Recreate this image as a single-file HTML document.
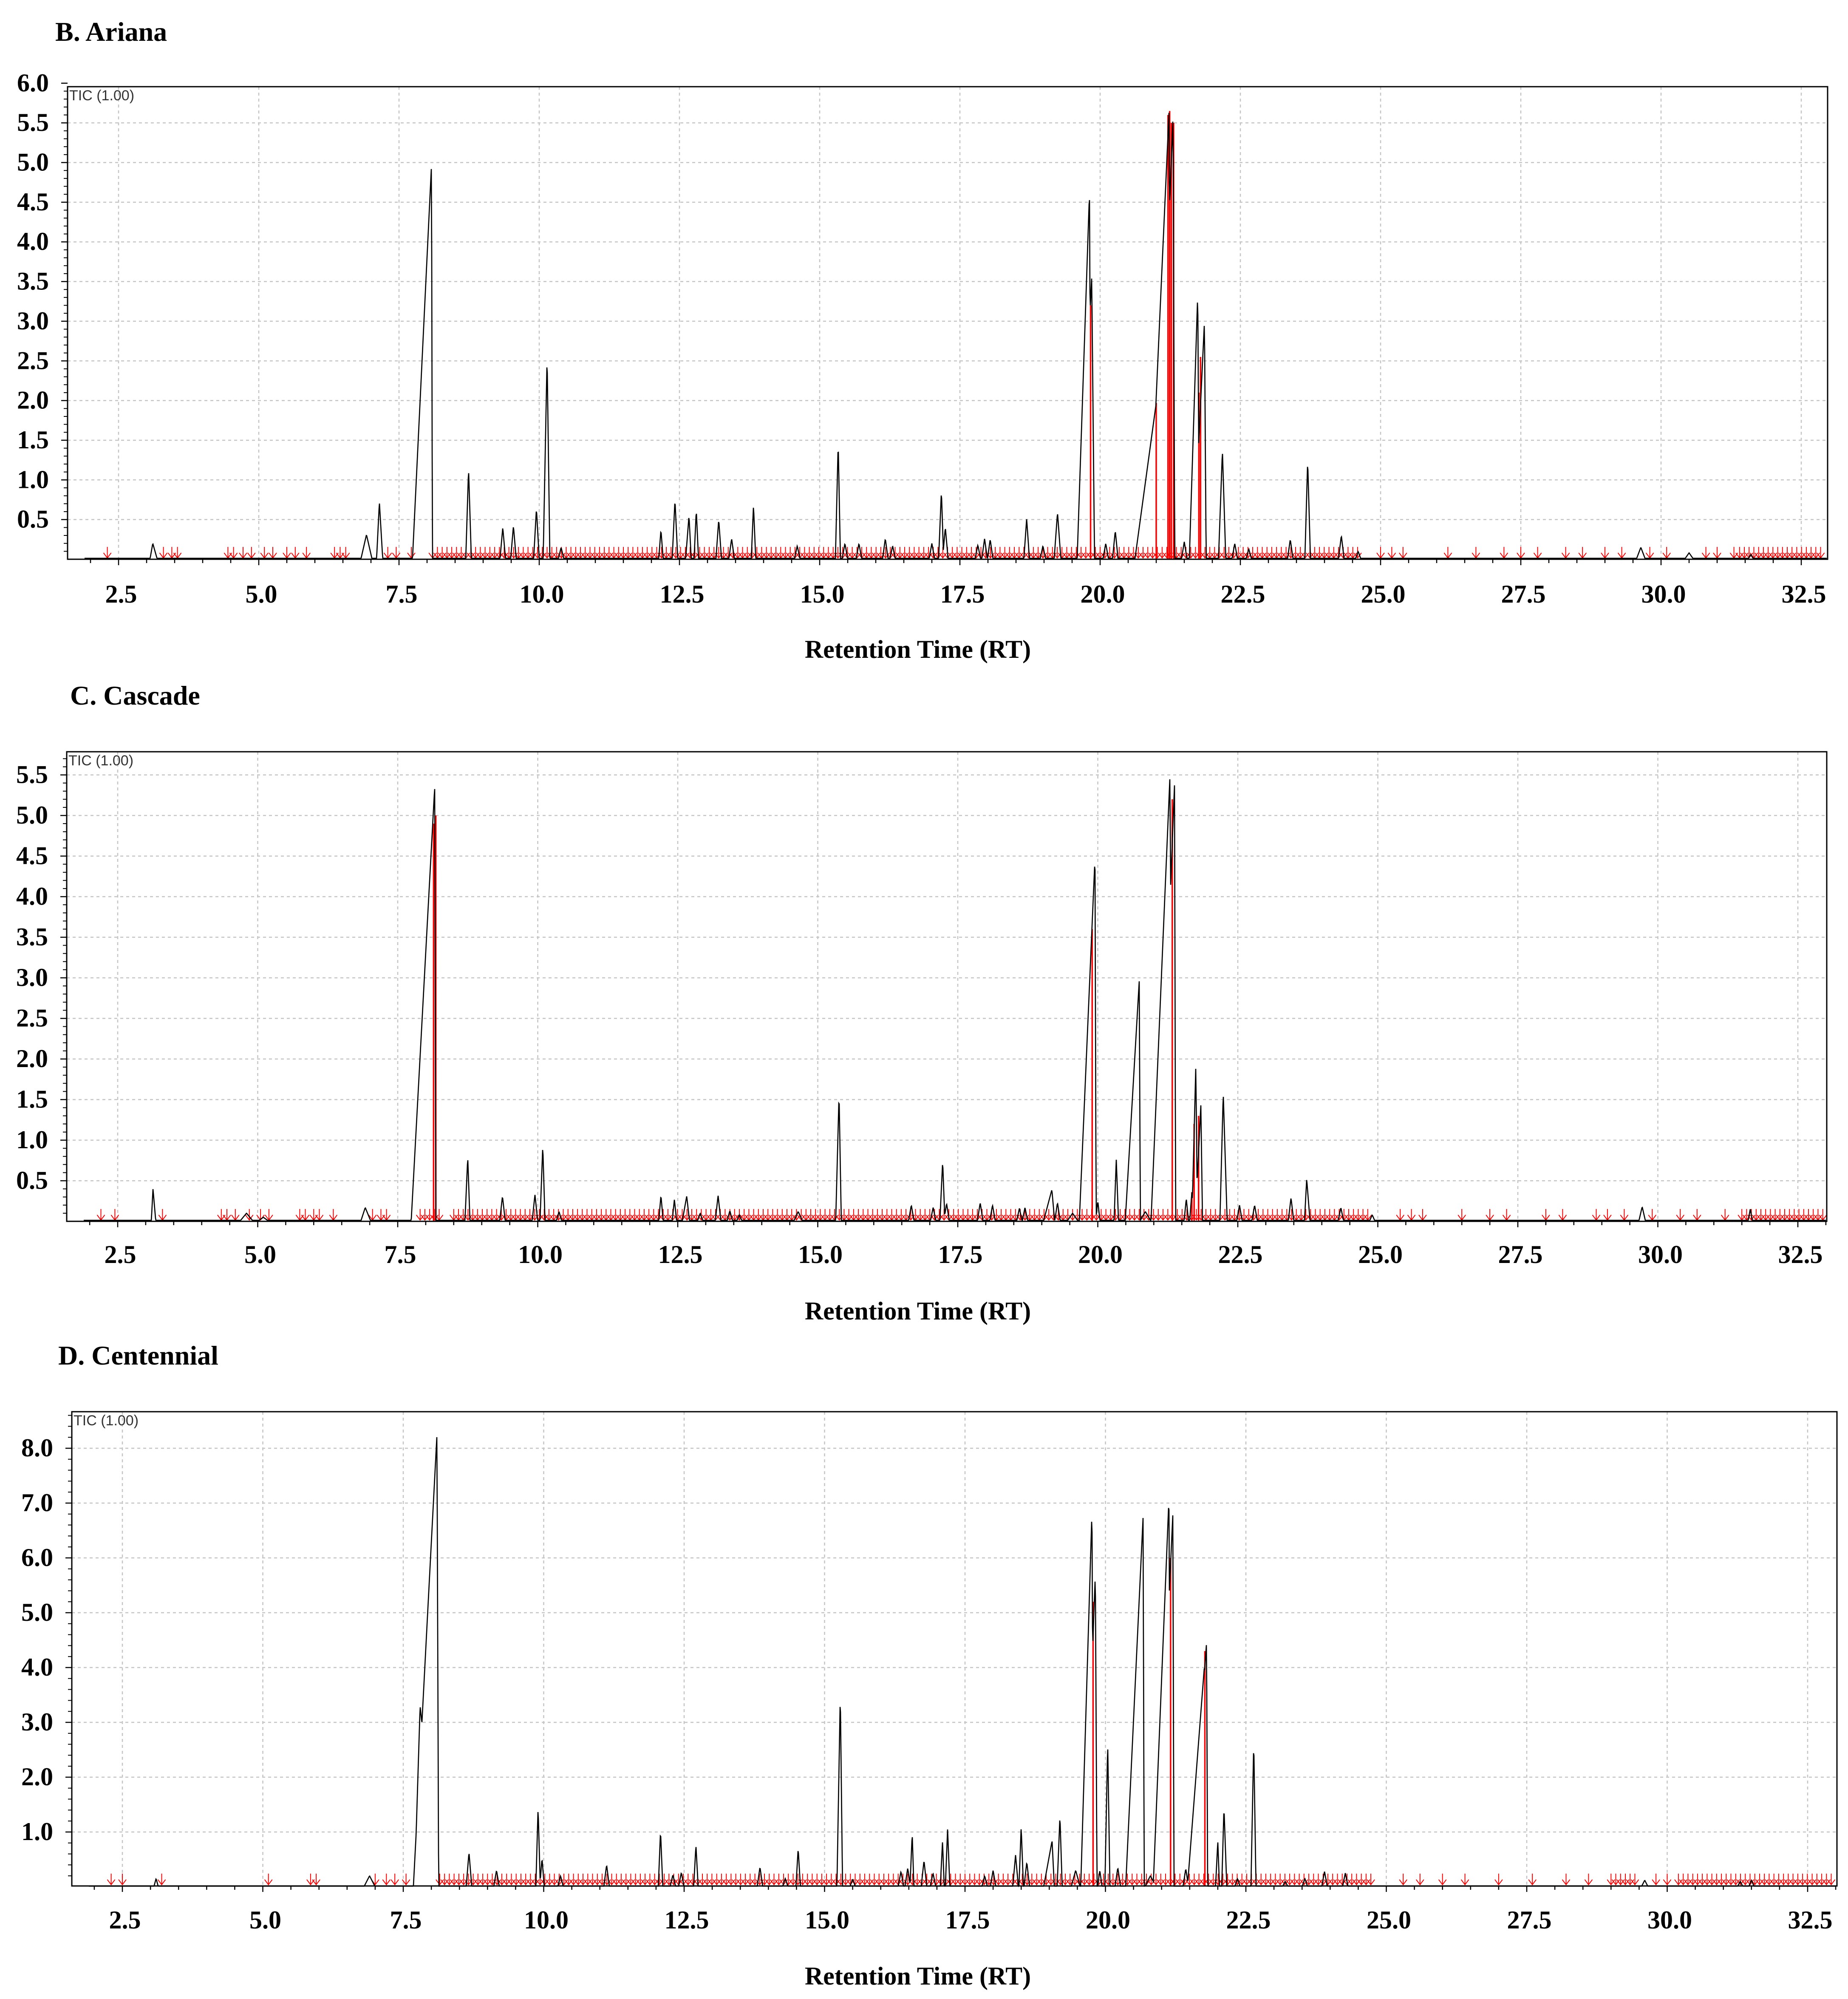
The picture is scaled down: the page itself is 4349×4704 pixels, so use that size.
<!DOCTYPE html>
<html><head><meta charset="utf-8">
<style>
html,body{margin:0;padding:0;background:#fff;}
svg{display:block;}
.t{font-family:"Liberation Serif",serif;font-weight:bold;fill:#000;}
.tic{font-family:"Liberation Sans",sans-serif;fill:#333;}
</style></head>
<body>
<svg id="chart" xmlns="http://www.w3.org/2000/svg" width="4349" height="4704" viewBox="0 0 4349 4704">
<rect width="4349" height="4704" fill="#fff"/>
<text class="t" x="130" y="96" font-size="64">B. Ariana</text>
<text class="t" x="165" y="1658" font-size="64">C. Cascade</text>
<text class="t" x="137" y="3211" font-size="64">D. Centennial</text>
<text class="t" x="2160" y="1548" font-size="60" text-anchor="middle">Retention Time (RT)</text>
<text class="t" x="2160" y="3105" font-size="60" text-anchor="middle">Retention Time (RT)</text>
<text class="t" x="2160" y="4670" font-size="60" text-anchor="middle">Retention Time (RT)</text>
</svg>
<script>
// x tick labels shared by all panels
const xTicks = [2.5,5.0,7.5,10.0,12.5,15.0,17.5,20.0,22.5,25.0,27.5,30.0,32.5];

// ---- Panel B (Ariana) ----
const p1Rt = [3.11,6.92,7.15,8.08,8.74,9.35,9.54,9.95,10.14,10.39,12.17,12.42,12.67,12.8,13.2,13.43,13.82,14.6,15.33,15.45,15.7,16.17,16.3,17.0,17.17,17.24,17.82,17.94,18.04,18.69,18.98,19.24,19.81,19.85,20.1,20.27,20.82,21.0,21.23,21.3,21.5,21.74,21.86,22.18,22.4,22.65,23.39,23.7,24.3,24.6,29.64,30.5,31.6];
const p1H  = [0.2,0.31,0.72,4.98,1.14,0.4,0.42,0.64,2.55,0.15,0.37,0.75,0.55,0.62,0.5,0.26,0.68,0.17,1.47,0.2,0.2,0.26,0.17,0.2,0.86,0.4,0.18,0.26,0.25,0.51,0.17,0.59,4.62,3.56,0.2,0.36,0.15,1.97,5.67,5.6,0.22,3.35,3.0,1.37,0.2,0.13,0.25,1.24,0.3,0.1,0.15,0.08,0.06];
const p1Wl = [0.05,0.1,0.05,0.34,0.05,0.05,0.05,0.05,0.07,0.05,0.04,0.05,0.06,0.04,0.05,0.05,0.04,0.05,0.05,0.05,0.05,0.05,0.05,0.05,0.05,0.05,0.05,0.05,0.05,0.05,0.05,0.06,0.22,0.24,0.05,0.05,0.15,0.38,0.36,0.3,0.05,0.15,0.2,0.07,0.05,0.05,0.05,0.05,0.05,0.05,0.08,0.08,0.05];
const p1Wr = [0.08,0.1,0.06,0.015,0.05,0.05,0.05,0.05,0.05,0.05,0.04,0.05,0.04,0.04,0.05,0.05,0.04,0.05,0.04,0.05,0.05,0.05,0.05,0.05,0.04,0.05,0.05,0.05,0.05,0.05,0.05,0.06,0.03,0.05,0.05,0.05,0.15,0.05,0.03,0.03,0.05,0.03,0.03,0.06,0.05,0.05,0.05,0.05,0.05,0.05,0.08,0.08,0.05];
const p1RedRt = [19.83,21.0,21.21,21.24,21.27,21.31,21.76,21.79];
const p1RedH  = [3.2,1.97,5.6,5.65,5.5,5.5,2.1,2.55];
const p1ArrowSingle = [2.3,3.3,3.45,3.55,4.45,4.55,4.72,4.87,5.1,5.25,5.5,5.65,5.85,6.35,6.45,6.55,7.3,7.45,7.72,25.0,25.2,25.4,26.2,26.7,27.2,27.5,27.8,28.3,28.6,29.0,29.3,29.8,30.1,30.8,31.0,31.3];
const p1ArrowDense = [[8.1,24.6],[31.4,32.9]];

// ---- Panel C (Cascade) ----
const p2Rt = [3.13,4.8,5.1,6.92,8.16,8.75,9.37,9.95,10.09,10.38,12.2,12.44,12.66,12.9,13.22,13.43,13.6,14.65,15.38,16.67,17.06,17.23,17.3,17.9,18.12,18.6,18.7,19.18,19.28,19.55,19.95,20.0,20.33,20.74,20.85,21.29,21.37,21.58,21.68,21.75,21.84,22.24,22.53,22.8,23.45,23.73,24.34,24.9,29.72,31.65];
const p2H  = [0.4,0.1,0.05,0.17,5.35,0.79,0.31,0.33,0.93,0.12,0.32,0.27,0.31,0.1,0.32,0.13,0.08,0.12,1.57,0.2,0.17,0.74,0.22,0.23,0.2,0.16,0.17,0.39,0.23,0.1,4.48,0.25,0.76,2.96,0.12,5.51,5.38,0.28,0.36,1.91,1.43,1.58,0.2,0.2,0.29,0.52,0.17,0.08,0.18,0.15];
const p2Wl = [0.03,0.12,0.1,0.08,0.42,0.05,0.05,0.05,0.05,0.05,0.04,0.04,0.08,0.05,0.05,0.05,0.05,0.08,0.06,0.05,0.05,0.05,0.05,0.05,0.05,0.05,0.05,0.15,0.05,0.1,0.28,0.04,0.04,0.25,0.1,0.34,0.3,0.04,0.04,0.07,0.1,0.06,0.05,0.05,0.05,0.04,0.05,0.05,0.06,0.04];
const p2Wr = [0.05,0.12,0.1,0.1,0.02,0.04,0.05,0.05,0.04,0.05,0.04,0.04,0.05,0.05,0.05,0.05,0.05,0.08,0.04,0.05,0.05,0.04,0.05,0.05,0.05,0.05,0.05,0.05,0.05,0.1,0.02,0.04,0.04,0.02,0.1,0.03,0.02,0.04,0.04,0.03,0.03,0.07,0.05,0.05,0.05,0.06,0.05,0.05,0.06,0.04];
const p2RedRt = [8.14,8.18,19.9,21.33,21.68,21.72,21.8];
const p2RedH  = [4.9,5.0,3.6,5.2,0.36,1.2,1.3];
const p2ArrowSingle = [2.2,2.45,3.3,4.35,4.45,4.6,4.85,5.05,5.2,5.75,5.85,6.0,6.1,6.35,7.05,7.2,7.3,25.4,25.6,25.8,26.5,27.0,27.3,28.0,28.3,28.9,29.1,29.4,29.9,30.4,30.7,31.2];
const p2ArrowDense = [[7.9,8.3],[8.5,24.9],[31.5,33.0]];

// ---- Panel D (Centennial) ----
const p3Rt = [3.1,6.9,7.8,8.1,8.67,9.16,9.9,9.97,10.3,11.12,12.08,12.3,12.45,12.71,13.85,14.3,14.53,15.28,15.5,16.36,16.48,16.56,16.77,16.93,17.1,17.19,17.85,18.0,18.4,18.5,18.6,19.05,19.19,19.47,19.76,19.82,19.9,20.04,20.22,20.67,20.8,21.13,21.2,21.43,21.76,21.8,22.0,22.11,22.35,22.64,23.2,23.55,23.9,24.27,29.6,31.3,31.5];
const p3H  = [0.15,0.2,3.3,8.25,0.63,0.3,1.44,0.52,0.2,0.4,1.02,0.22,0.26,0.76,0.36,0.15,0.7,3.51,0.14,0.28,0.34,0.97,0.48,0.25,0.83,1.05,0.2,0.3,0.58,1.09,0.45,0.84,1.29,0.3,6.86,5.72,0.3,2.61,0.35,6.74,0.2,7.08,6.8,0.33,4.0,4.46,0.83,1.45,0.15,2.64,0.1,0.15,0.28,0.25,0.12,0.1,0.12];
const p3Wl = [0.04,0.1,0.1,0.42,0.05,0.05,0.04,0.04,0.05,0.05,0.04,0.05,0.05,0.04,0.05,0.05,0.04,0.06,0.05,0.05,0.05,0.04,0.05,0.05,0.04,0.04,0.05,0.05,0.05,0.04,0.05,0.15,0.05,0.08,0.2,0.2,0.04,0.05,0.05,0.31,0.1,0.28,0.3,0.05,0.3,0.3,0.04,0.04,0.05,0.05,0.05,0.05,0.05,0.05,0.06,0.05,0.05];
const p3Wr = [0.04,0.1,0.33,0.03,0.05,0.05,0.04,0.04,0.05,0.05,0.04,0.05,0.05,0.04,0.05,0.05,0.04,0.04,0.05,0.05,0.05,0.03,0.05,0.05,0.03,0.04,0.05,0.05,0.05,0.04,0.05,0.04,0.04,0.08,0.03,0.03,0.04,0.04,0.05,0.02,0.1,0.03,0.02,0.05,0.05,0.02,0.03,0.05,0.05,0.04,0.05,0.05,0.05,0.05,0.06,0.05,0.05];
const p3RedRt = [19.78,21.16,21.77];
const p3RedH  = [5.2,6.0,4.3];
const p3ArrowSingle = [2.3,2.5,3.2,5.1,5.85,5.95,7.0,7.2,7.35,7.55,25.3,25.6,26.0,26.4,27.0,27.6,28.2,28.6,29.8,30.0];
const p3ArrowDense = [[8.15,24.8],[29.0,29.5],[30.2,33.0]];

const NS = "http://www.w3.org/2000/svg";
const svg = document.getElementById("chart");
function mk(tag, attrs, parent){
  const e = document.createElementNS(NS, tag);
  for (const k in attrs) e.setAttribute(k, attrs[k]);
  (parent||svg).appendChild(e);
  return e;
}

function drawPanel(cfg, rt, h, wl, wr, redRt, redH, arrowSingle, arrowDense){
  const g = mk("g", {});
  
  
  const xs = v => cfg.x25 + (v - 2.5) * cfg.pxPerX;
  const ys = v => cfg.y0 - v * cfg.pxPerY;
  for (const t of xTicks){
    const gl = mk("line", {x1:xs(t), x2:xs(t), y1:cfg.top, y2:cfg.bottom, stroke:"#c4c4c4", "stroke-width":2.5, "stroke-dasharray":"7 7"}, g);
    
    
  }
  for (const t of cfg.yTicks){
    if (ys(t) < cfg.top) continue;
    const gl = mk("line", {x1:cfg.left, x2:cfg.right, y1:ys(t), y2:ys(t), stroke:"#c4c4c4", "stroke-width":2.5, "stroke-dasharray":"7 7"}, g);
    
    
  }
  for (let v = cfg.yMinor; v <= cfg.yMax + 1e-6; v += cfg.yMinor){
    const y = ys(v);
    if (y < cfg.top - 12) continue;
    mk("line", {x1:cfg.left-9, x2:cfg.left, y1:y, y2:y, stroke:"#000", "stroke-width":2}, g);
  }
  for (const t of cfg.yTicks){
    mk("line", {x1:cfg.left-15, x2:cfg.left, y1:ys(t), y2:ys(t), stroke:"#000", "stroke-width":2.5}, g);
    const lb = mk("text", {x:cfg.left-44, y:ys(t)+19, "font-size":60, "text-anchor":"end", class:"t"}, g);
    lb.textContent = t.toFixed(1);
    
    
  }
  for (let v = 2.0; v <= 33.0; v += 0.5){
    const x = xs(v);
    if (x < cfg.left || x > cfg.right) continue;
    const major = Math.abs(v/2.5 - Math.round(v/2.5)) < 1e-6;
    mk("line", {x1:x, x2:x, y1:cfg.bottom, y2:cfg.bottom + (major?14:9), stroke:"#000", "stroke-width":2.5}, g);
  }
  for (const t of xTicks){
    const lb = mk("text", {x:xs(t)+6, y:cfg.xLabelY, "font-size":60, "text-anchor":"middle", class:"t"}, g);
    lb.textContent = t.toFixed(1);
    
    
  }
  const arrowPos = arrowSingle.slice();
  for (const r of arrowDense){ for (let v = r[0]; v <= r[1]; v += 0.085) arrowPos.push(v); }
  let ad = "";
  const by = cfg.bottom - 3;
  for (const v of arrowPos){
    const x = xs(v);
    if (x < cfg.left || x > cfg.right) continue;
    ad += `M${x.toFixed(1)} ${by-26}L${x.toFixed(1)} ${by}M${(x-9).toFixed(1)} ${by-12}L${x.toFixed(1)} ${by}L${(x+9).toFixed(1)} ${by-12}`;
  }
  const ap = mk("path", {d:ad, stroke:"#ff0000", "stroke-width":2, fill:"none"}, g);
  
  
  for (let i = 0; i < redRt.length; i++){
    const rl = mk("line", {x1:xs(redRt[i]), x2:xs(redRt[i]), y1:cfg.bottom, y2:Math.max(cfg.top, ys(redH[i])), stroke:"#ff0000", "stroke-width":3.5}, g);
    
    
  }
  let pts = [];
  for (let X = cfg.left + 40; X <= cfg.right - 2; X += 1){
    const t = 2.5 + (X - cfg.x25) / cfg.pxPerX;
    let val = 0.012;
    for (let i = 0; i < rt.length; i++){
      const d = t - rt[i];
      const w = d < 0 ? wl[i] : wr[i];
      const f = h[i] * (1 - Math.abs(d) / w);
      if (f > val) val = f;
    }
    let y = ys(val);
    if (y < cfg.top) y = cfg.top;
    pts.push(X + "," + y.toFixed(1));
  }
  const tr = mk("polyline", {points:pts.join(" "), fill:"none", stroke:"#000", "stroke-width":2.6, "stroke-linejoin":"miter"}, g);
  
  
  const bx = mk("rect", {x:cfg.left, y:cfg.top, width:cfg.right-cfg.left, height:cfg.bottom-cfg.top, fill:"none", stroke:"#000", "stroke-width":3}, g);
  
  
  const tl = mk("text", {x:cfg.left+4, y:cfg.top+32, "font-size":34, class:"tic"}, g);
  tl.textContent = "TIC (1.00)";
  
  
}

drawPanel({name:"panel-b-ariana", left:159, top:204, right:4301, bottom:1316, x25:279, pxPerX:132, y0:1316, pxPerY:186.7,
  yTicks:[0.5,1.0,1.5,2.0,2.5,3.0,3.5,4.0,4.5,5.0,5.5,6.0], yMinor:0.1, yMax:6.0, xLabelY:1418},
  p1Rt, p1H, p1Wl, p1Wr, p1RedRt, p1RedH, p1ArrowSingle, p1ArrowDense);
drawPanel({name:"panel-c-cascade", left:157, top:1769, right:4299, bottom:2874, x25:277, pxPerX:131.8, y0:2874, pxPerY:191,
  yTicks:[0.5,1.0,1.5,2.0,2.5,3.0,3.5,4.0,4.5,5.0,5.5], yMinor:0.1, yMax:5.7, xLabelY:2972},
  p2Rt, p2H, p2Wl, p2Wr, p2RedRt, p2RedH, p2ArrowSingle, p2ArrowDense);
drawPanel({name:"panel-d-centennial", left:169, top:3322, right:4323, bottom:4438, x25:288, pxPerX:132.2, y0:4440, pxPerY:129,
  yTicks:[1.0,2.0,3.0,4.0,5.0,6.0,7.0,8.0], yMinor:0.2, yMax:8.6, xLabelY:4538},
  p3Rt, p3H, p3Wl, p3Wr, p3RedRt, p3RedH, p3ArrowSingle, p3ArrowDense);
</script>
</body></html>
